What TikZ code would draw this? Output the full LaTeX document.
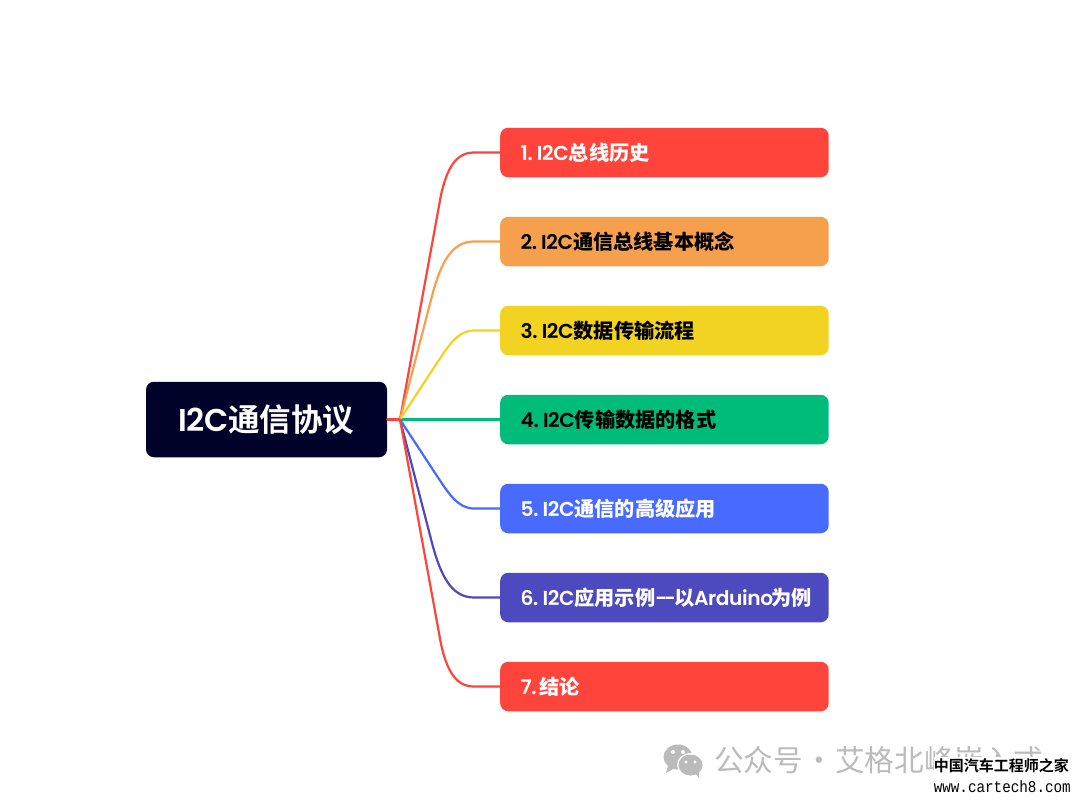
\documentclass[tikz,border=0pt]{standalone}
\usepackage{fontspec}
\setmainfont{Poppins}
\newfontfamily\pp{Poppins SemiBold}[LetterSpace=-2,WordSpace=0.6]
\newfontfamily\cjk{Noto Sans CJK SC Black}
\newfontfamily\cjkb{Noto Sans CJK SC Bold}
\newfontfamily\cjkr{Noto Sans CJK SC}
\newfontfamily\mono{Liberation Mono}[FakeStretch=0.87]
\newcommand{\mixtext}[2]{{\pp #1}{\cjk #2}}
\definecolor{cRed}{HTML}{FF443B}
\definecolor{cOrange}{HTML}{F6A04D}
\definecolor{cYellow}{HTML}{F3D321}
\definecolor{cGreen}{HTML}{00BC7B}
\definecolor{cBlue}{HTML}{486AFF}
\definecolor{cIndigo}{HTML}{4D49BE}
\definecolor{cRoot}{HTML}{000229}
\definecolor{cWm}{HTML}{BBBBBB}
\tikzset{
  x=1pt,y=-1pt,
  topicbox/.style={rounded corners=8pt,minimum width=328.5pt,minimum height=49.5pt,inner sep=0pt,anchor=west},
  topictext/.style={anchor=west,inner sep=0pt,font=\fontsize{20.2}{22}\selectfont},
  rootbox/.style={rounded corners=8pt,fill=cRoot,minimum width=241pt,minimum height=75.5pt,inner sep=0pt,text=white,font=\fontsize{31.5}{34}\selectfont},
  branch/.style={line width=2.2pt,line cap=round},
}
\begin{document}
\begin{tikzpicture}
\useasboundingbox (0,0) rectangle (1080,803);
\fill[white] (0,0) rectangle (1080,803);
\node[rootbox] (root) at (266.5,419.5) {{\pp I2C}{\cjkb 通信协议}};
\coordinate (hub) at (400,419.5);
\node[topicbox,fill=cRed] (t1) at (500,152.5) {};
\node[topicbox,fill=cOrange] (t2) at (500,241.5) {};
\node[topicbox,fill=cYellow] (t3) at (500,330.5) {};
\node[topicbox,fill=cGreen] (t4) at (500,419.5) {};
\node[topicbox,fill=cBlue] (t5) at (500,508.5) {};
\node[topicbox,fill=cIndigo] (t6) at (500,597.5) {};
\node[topicbox,fill=cRed] (t7) at (500,686.5) {};
\node[topictext,text=white] (l1) at (520.5,153) {\mixtext{1. I2C}{总线历史}};
\node[topictext,text=black] (l2) at (520.5,242) {\mixtext{2. I2C}{通信总线基本概念}};
\node[topictext,text=black] (l3) at (520.5,331) {\mixtext{3. I2C}{数据传输流程}};
\node[topictext,text=black] (l4) at (520.5,420) {\mixtext{4. I2C}{传输数据的格式}};
\node[topictext,text=white] (l5) at (520.5,509) {\mixtext{5. I2C}{通信的高级应用}};
\node[topictext,text=white] (l6) at (520.5,598) {\mixtext{6. I2C}{应用示例}{\pp -\kern-3pt-\kern-1pt}{\cjk 以}{\pp\kern-1pt Arduino\kern-2pt}{\cjk 为例}};
\node[topictext,text=white] (l7) at (520.5,687) {\mixtext{7.\kern3pt}{结论}};
\draw[branch,cGreen] (hub) -- (t4.west);
\draw[branch,cRed] (root.east) -- (hub);
\draw[branch,cRed] (hub) -- (441,195) .. controls (447,168) and (456,152.5) .. (474,152.5) -- (t1.west);
\draw[branch,cOrange] (hub) -- (432,296) .. controls (441,262) and (452,241.5) .. (474,241.5) -- (t2.west);
\draw[branch,cYellow] (hub) -- (437,363) .. controls (449,345) and (458,330.5) .. (474,330.5) -- (t3.west);
\draw[branch,cBlue] (hub) -- (437,476) .. controls (449,494) and (458,508.5) .. (474,508.5) -- (t5.west);
\draw[branch,cIndigo] (hub) -- (432,543) .. controls (441,577) and (452,597.5) .. (474,597.5) -- (t6.west);
\draw[branch,cRed] (hub) -- (441,644) .. controls (447,671) and (456,686.5) .. (474,686.5) -- (t7.west);
% watermark
\fill[cWm] (678,757) ellipse (14.5pt and 12.5pt);
\fill[cWm] (668,766) -- (666,773) -- (675,768) -- cycle;
\fill[white] (690.5,765) ellipse (13.5pt and 12pt);
\fill[cWm] (690.5,765) ellipse (12pt and 10.5pt);
\fill[cWm] (695,773) -- (699,778) -- (699,771) -- cycle;
\fill[white] (673,752) circle (2pt) (683,752) circle (2pt) (686,762) circle (1.6pt) (695,762) circle (1.6pt);
\node[anchor=west,inner sep=0pt,text=cWm,font=\cjkr\fontsize{29.7}{32}\selectfont] (wm) at (714,760) {公众号\makebox[32pt]{·}艾格北峰嵌入式};
\fill[white] (934,757) rectangle (1080,803);
\node[anchor=east,inner sep=0pt,font=\cjkb\fontsize{15}{17}\selectfont] (s1) at (1069,766) {中国汽车工程师之家};
\node[anchor=east,inner sep=0pt,font=\mono\fontsize{16.4}{18}\selectfont] (s2) at (1071,787) {www.cartech8.com};
\end{tikzpicture}
\end{document}
